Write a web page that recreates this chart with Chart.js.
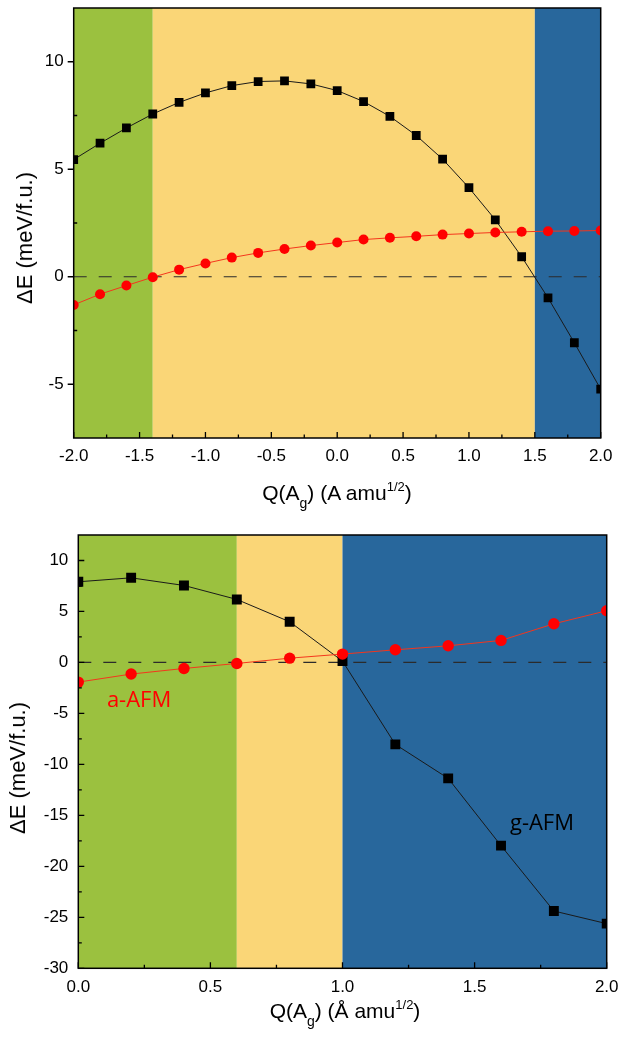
<!DOCTYPE html>
<html>
<head>
<meta charset="utf-8">
<script src="https://cdn.jsdelivr.net/npm/chart.js@4.4.1/dist/chart.umd.min.js"></script>
<style>
  html, body { margin: 0; padding: 0; background: #fff; }
  body { width: 621px; height: 1042px; position: relative; overflow: hidden;
         font-family: "Liberation Sans", Arial, sans-serif; color: #000; }
  canvas { position: absolute; left: 0; }
  #chartTop { top: 0; }
  #chartBottom { top: 500px; }
  .ytitle { position: absolute; font-size: 22px; line-height: 1; white-space: nowrap;
            transform: translate(-50%, -50%) rotate(-90deg); }
  .xtitle { position: absolute; font-size: 21px; line-height: 1; white-space: nowrap;
            transform: translateX(-50%); }
  .sub { font-size: 14px; position: relative; top: 8px; }
  .sup { font-size: 13px; position: relative; top: -9px; }
</style>
</head>
<body>
<canvas id="chartTop" width="621" height="500" style="width:621px;height:500px"></canvas>
<canvas id="chartBottom" width="621" height="542" style="width:621px;height:542px"></canvas>

<div class="ytitle" style="left:25px;top:238px">ΔE (meV/f.u.)</div>
<div class="xtitle" style="left:337px;top:482px">Q(A<span class="sub">g</span>) (A amu<span class="sup">1/2</span>)</div>
<div class="ytitle" style="left:18px;top:768px">ΔE (meV/f.u.)</div>
<div class="xtitle" style="left:345px;top:1000px">Q(A<span class="sub">g</span>) (Å amu<span class="sup">1/2</span>)</div>

<script>
// =========================
// DATA - upper panel
// =========================
const topQ     = [-2.0, -1.8, -1.6, -1.4, -1.2, -1.0, -0.8, -0.6, -0.4, -0.2, 0.0,
                  0.2, 0.4, 0.6, 0.8, 1.0, 1.2, 1.4, 1.6, 1.8, 2.0];
const topBlack = [5.45, 6.21, 6.92, 7.57, 8.11, 8.55, 8.89, 9.08, 9.11, 8.97, 8.66,
                  8.15, 7.46, 6.57, 5.47, 4.14, 2.65, 0.93, -0.98, -3.07, -5.23];
const topRed   = [-1.31, -0.81, -0.41, -0.02, 0.33, 0.62, 0.89, 1.11, 1.29, 1.45, 1.59,
                  1.73, 1.81, 1.88, 1.96, 2.01, 2.06, 2.09, 2.12, 2.13, 2.15];
const topXTicks = [-2.0, -1.5, -1.0, -0.5, 0.0, 0.5, 1.0, 1.5, 2.0];
const topYTicks = [-5, 0, 5, 10];
const topPhaseEdges = [-2.0, -1.4, 1.5, 2.0];

// =========================
// DATA - lower panel
// =========================
const bottomQ     = [0.0, 0.2, 0.4, 0.6, 0.8, 1.0, 1.2, 1.4, 1.6, 1.8, 2.0];
const bottomBlack = [7.91, 8.30, 7.55, 6.18, 3.99, 0.13, -8.04, -11.37, -17.97, -24.38, -25.62];
const bottomRed   = [-1.93, -1.14, -0.59, -0.10, 0.42, 0.82, 1.24, 1.63, 2.16, 3.79, 5.07];
const bottomXTicks = [0.0, 0.5, 1.0, 1.5, 2.0];
const bottomYTicks = [-30, -25, -20, -15, -10, -5, 0, 5, 10];
const bottomPhaseEdges = [0.0, 0.6, 1.0, 2.0];

const phaseColors = ["#9bc13f", "#fad677", "#28679c"];

Chart.defaults.font.family = '"Liberation Sans", Arial, sans-serif';
Chart.defaults.color = "#000";

const toPoints = (xs, ys) => xs.map((x, i) => ({ x, y: ys[i] }));

// minor ticks halfway between majors
function minorTicks(majors, min, max) {
  const step = majors[1] - majors[0];
  const out = [];
  [majors[0] - step, ...majors].forEach(m => {
    const v = m + step / 2;
    if (v > min && v < max) out.push(v);
  });
  return out;
}

// =========================
// PLUGIN: bands, zero line, frame, ticks, labels
// =========================
function makeDecor(cfg) {
  return {
    id: "decor",
    beforeDatasetsDraw(chart) {
      const { ctx, chartArea: a, scales: { x, y } } = chart;
      ctx.save();
      ctx.beginPath();
      ctx.rect(a.left, a.top, a.right - a.left, a.bottom - a.top);
      ctx.clip();
      for (let i = 0; i < cfg.edges.length - 1; i++) {
        const x0 = x.getPixelForValue(cfg.edges[i]);
        const x1 = x.getPixelForValue(cfg.edges[i + 1]);
        ctx.fillStyle = phaseColors[i];
        ctx.fillRect(x0, a.top, x1 - x0, a.bottom - a.top);
      }
      const y0 = y.getPixelForValue(0);
      ctx.setLineDash([13, 12]);
      ctx.strokeStyle = "#2b2b2b";
      ctx.lineWidth = 1.2;
      ctx.beginPath();
      ctx.moveTo(a.left, y0);
      ctx.lineTo(a.right, y0);
      ctx.stroke();
      ctx.restore();
    },
    afterDatasetsDraw(chart) {
      const { ctx, chartArea: a, scales: { x, y } } = chart;
      ctx.save();
      ctx.strokeStyle = "#000";
      ctx.lineWidth = 1.5;
      ctx.strokeRect(a.left, a.top, a.right - a.left, a.bottom - a.top);

      ctx.lineWidth = 1.3;
      ctx.beginPath();
      // x ticks (pointing into the plot)
      cfg.xTicks.forEach(v => {
        const px = x.getPixelForValue(v);
        ctx.moveTo(px, a.bottom); ctx.lineTo(px, a.bottom - 6);
      });
      minorTicks(cfg.xTicks, x.min, x.max).forEach(v => {
        const px = x.getPixelForValue(v);
        ctx.moveTo(px, a.bottom); ctx.lineTo(px, a.bottom - 3.5);
      });
      // y ticks
      cfg.yTicks.forEach(v => {
        const py = y.getPixelForValue(v);
        ctx.moveTo(a.left, py); ctx.lineTo(a.left + 6 * cfg.yMajorDir, py);
      });
      minorTicks(cfg.yTicks, y.min, y.max).forEach(v => {
        const py = y.getPixelForValue(v);
        ctx.moveTo(a.left, py); ctx.lineTo(a.left + 3.5 * cfg.yMinorDir, py);
      });
      ctx.stroke();

      // curve labels
      (cfg.labels || []).forEach(l => {
        ctx.font = '22px "Open Sans", "Liberation Sans", sans-serif';
        ctx.fillStyle = l.color;
        ctx.textAlign = "center";
        ctx.textBaseline = "middle";
        ctx.fillText(l.text, x.getPixelForValue(l.x), y.getPixelForValue(l.y));
      });
      ctx.restore();
    }
  };
}

function makeChart(canvasId, opt) {
  return new Chart(document.getElementById(canvasId), {
    type: "line",
    data: {
      datasets: [
        {
          label: "a-AFM",
          data: toPoints(opt.q, opt.red),
          borderColor: "#f4361d",
          borderWidth: 1,
          pointStyle: "circle",
          pointRadius: opt.circleR,
          pointBackgroundColor: "#ff0000",
          pointBorderColor: "#ff0000",
          pointBorderWidth: 0,
          clip: 0
        },
        {
          label: "g-AFM",
          data: toPoints(opt.q, opt.black),
          borderColor: "#1a1a1a",
          borderWidth: 1,
          pointStyle: "rect",
          pointRadius: opt.rectR,
          pointBackgroundColor: "#000",
          pointBorderColor: "#000",
          pointBorderWidth: 0,
          clip: 0
        }
      ]
    },
    options: {
      responsive: false,
      animation: false,
      devicePixelRatio: 1,
      layout: { padding: { top: opt.padTop, right: opt.padRight, left: 0, bottom: 0 } },
      plugins: { legend: { display: false }, tooltip: { enabled: false } },
      scales: {
        x: {
          type: "linear",
          min: opt.xMin, max: opt.xMax,
          grid: { display: false, drawTicks: false },
          border: { display: false },
          afterBuildTicks: s => { s.ticks = opt.xTicks.map(v => ({ value: v })); },
          afterFit: s => { s.height = opt.xHeight; s.paddingLeft = 0; s.paddingRight = 0; },
          ticks: {
            autoSkip: false, maxRotation: 0, padding: opt.xPad,
            font: { size: 17 },
            callback: v => v.toFixed(1)
          }
        },
        y: {
          type: "linear",
          min: opt.yMin, max: opt.yMax,
          grid: { display: false, drawTicks: false },
          border: { display: false },
          afterBuildTicks: s => { s.ticks = opt.yTicks.map(v => ({ value: v })); },
          afterFit: s => { s.width = opt.yWidth; s.paddingTop = 0; s.paddingBottom = 0; },
          ticks: { autoSkip: false, padding: 10, font: { size: 17 } }
        }
      }
    },
    plugins: [makeDecor({
      edges: opt.edges, xTicks: opt.xTicks, yTicks: opt.yTicks,
      yMajorDir: opt.yMajorDir, yMinorDir: opt.yMinorDir, labels: opt.labels
    })]
  });
}

// =========================
// INIT
// =========================
makeChart("chartTop", {
  q: topQ, red: topRed, black: topBlack,
  xMin: -2, xMax: 2, yMin: -7.5, yMax: 12.5,
  xTicks: topXTicks, yTicks: topYTicks, edges: topPhaseEdges,
  padTop: 8, padRight: 20.3, xHeight: 62, yWidth: 73.7, xPad: 8,
  circleR: 5, rectR: 6.2, yMajorDir: -1, yMinorDir: 1
});

makeChart("chartBottom", {
  q: bottomQ, red: bottomRed, black: bottomBlack,
  xMin: 0, xMax: 2, yMin: -30, yMax: 12.5,
  xTicks: bottomXTicks, yTicks: bottomYTicks, edges: bottomPhaseEdges,
  padTop: 35, padRight: 14.3, xHeight: 73.7, yWidth: 78.3, xPad: 9,
  circleR: 5.7, rectR: 7, yMajorDir: 1, yMinorDir: 1,
  labels: [
    { text: "a-AFM", x: 0.23, y: -3.75, color: "#ff0000" },
    { text: "g-AFM", x: 1.755, y: -15.8, color: "#000" }
  ]
});
</script>
</body>
</html>
